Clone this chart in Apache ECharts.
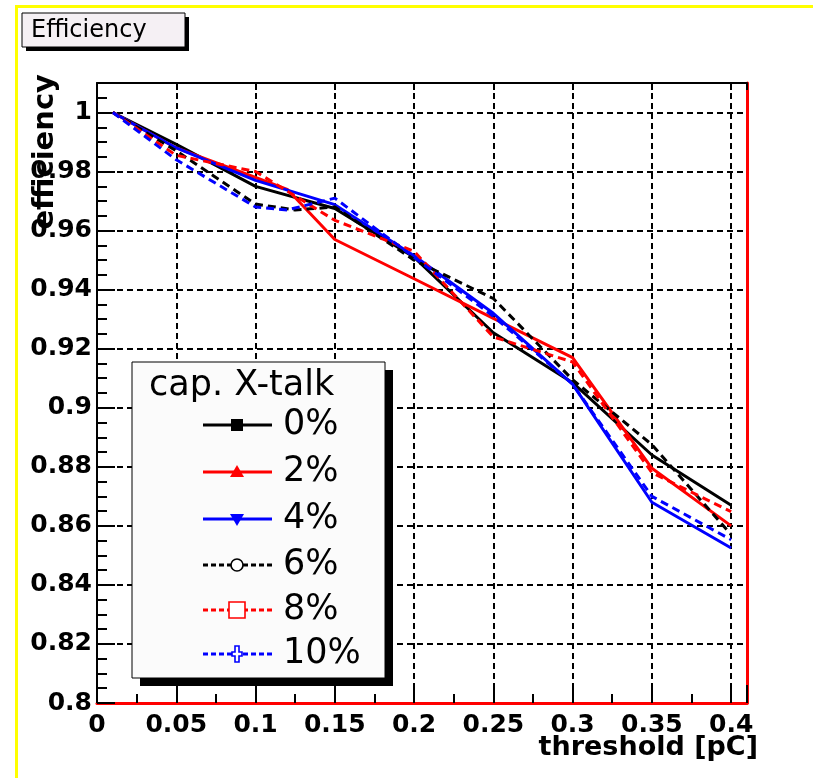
<!DOCTYPE html>
<html><head><meta charset="utf-8">
<script src="https://cdn.jsdelivr.net/npm/echarts@6/dist/echarts.min.js"></script>
<style>html,body{margin:0;padding:0;background:#fff}#c{width:813px;height:778px}</style>
</head><body><div id="c"></div>
<script>
// ---- data ----
const seriesNames = ['0%', '2%', '4%', '6%', '8%', '10%'];
const legendTitle = 'cap. X-talk';
const chartTitle = 'Efficiency';
const xTitle = 'threshold [pC]';
const yTitle = 'efficiency';

const x0 = [0.01, 0.05, 0.1, 0.15, 0.2, 0.25, 0.3, 0.35, 0.4];
const y0 = [1.0, 0.9892, 0.975, 0.9675, 0.951, 0.9254, 0.9085, 0.884, 0.867];
const x2 = [0.01, 0.05, 0.1, 0.12, 0.15, 0.2, 0.25, 0.3, 0.35, 0.4];
const y2 = [1.0, 0.988, 0.978, 0.974, 0.957, 0.9437, 0.9303, 0.917, 0.8795, 0.860];
const x4 = [0.01, 0.05, 0.1, 0.15, 0.2, 0.25, 0.3, 0.35, 0.4];
const y4 = [1.0, 0.988, 0.977, 0.9688, 0.9515, 0.932, 0.908, 0.868, 0.8525];
const x6 = [0.01, 0.05, 0.1, 0.125, 0.15, 0.2, 0.25, 0.3, 0.35, 0.4];
const y6 = [1.0, 0.987, 0.969, 0.967, 0.968, 0.950, 0.937, 0.9095, 0.8875, 0.857];
const x8 = [0.01, 0.05, 0.1, 0.15, 0.2, 0.25, 0.3, 0.35, 0.4];
const y8 = [1.0, 0.9855, 0.980, 0.9635, 0.953, 0.924, 0.9155, 0.878, 0.8648];
const x10 = [0.01, 0.05, 0.1, 0.12, 0.15, 0.2, 0.25, 0.3, 0.35, 0.4];
const y10 = [1.0, 0.984, 0.968, 0.967, 0.971, 0.951, 0.931, 0.908, 0.870, 0.8553];

const xs = [x0, x2, x4, x6, x8, x10];
const ys = [y0, y2, y4, y6, y8, y10];

// ---- styles ----
const colors = ['#000000', '#ff0000', '#0000ff', '#000000', '#ff0000', '#0000ff'];
const dashed = [false, false, false, true, true, true];
const markers = ['square', 'triangle', 'downTriangle', 'openCircle', 'openSquare', 'openCross'];
const FONT = 'DejaVu Sans';

const series = seriesNames.map((n, i) => ({
  name: n,
  type: 'line',
  data: xs[i].map((x, k) => [x, ys[i][k]]),
  showSymbol: false,
  symbol: 'none',
  silent: true,
  lineStyle: { color: colors[i], width: 3, type: dashed[i] ? [8, 5] : 'solid' },
  z: 3
}));

// legend built as graphic
const LX = 132, LY = 362, LW = 253, LH = 316;
const rowY = [425, 472, 519, 565, 610, 654];
const legendEls = [
  { type: 'rect', shape: { x: LX + 8, y: LY + 8, width: LW, height: LH }, style: { fill: '#000' }, z: 100 },
  { type: 'rect', shape: { x: LX, y: LY, width: LW, height: LH }, style: { fill: '#fbfbfb', stroke: '#000', lineWidth: 1 }, z: 101 },
  { type: 'text', x: 149, y: 386, style: { text: legendTitle, font: '35px "' + FONT + '"', fill: '#000', textVerticalAlign: 'middle', textAlign: 'left' }, z: 102 }
];
function markerEl(kind, cx, cy, col) {
  switch (kind) {
    case 'square': return { type: 'rect', shape: { x: cx - 6, y: cy - 6, width: 12, height: 12 }, style: { fill: col } };
    case 'triangle': return { type: 'polygon', shape: { points: [[cx, cy - 7], [cx + 7, cy + 5], [cx - 7, cy + 5]] }, style: { fill: col } };
    case 'downTriangle': return { type: 'polygon', shape: { points: [[cx - 7, cy - 5], [cx + 7, cy - 5], [cx, cy + 7]] }, style: { fill: col } };
    case 'openCircle': return { type: 'circle', shape: { cx: cx, cy: cy, r: 6 }, style: { fill: '#fff', stroke: col, lineWidth: 1.6 } };
    case 'openSquare': return { type: 'rect', shape: { x: cx - 8, y: cy - 8, width: 16, height: 16 }, style: { fill: '#fff', stroke: col, lineWidth: 1.6 } };
    default: return { type: 'polygon', shape: { points: [[cx - 2, cy - 8], [cx + 2, cy - 8], [cx + 2, cy - 2], [cx + 5, cy - 2], [cx + 5, cy + 2], [cx + 2, cy + 2], [cx + 2, cy + 8], [cx - 2, cy + 8], [cx - 2, cy + 2], [cx - 5, cy + 2], [cx - 5, cy - 2], [cx - 2, cy - 2]] }, style: { fill: '#fff', stroke: col, lineWidth: 1.6 } };
  }
}
seriesNames.forEach((n, i) => {
  const y = rowY[i];
  legendEls.push({ type: 'line', shape: { x1: 203, y1: y, x2: 272, y2: y }, style: { stroke: colors[i], lineWidth: 3, lineDash: dashed[i] ? [5, 3] : null }, z: 102 });
  const m = markerEl(markers[i], 237, y, colors[i]); m.z = 103; legendEls.push(m);
  legendEls.push({ type: 'text', x: 283, y: y, style: { text: n, font: '35px "' + FONT + '"', fill: '#000', textVerticalAlign: 'middle', textAlign: 'left' }, z: 102 });
});

const frameEls = [
  { type: 'rect', shape: { x: 15, y: 5, width: 798, height: 3 }, style: { fill: '#ffff00' }, z: 0 },
  { type: 'rect', shape: { x: 15, y: 5, width: 3, height: 773 }, style: { fill: '#ffff00' }, z: 0 },
  { type: 'rect', shape: { x: 26, y: 17, width: 163, height: 34 }, style: { fill: '#000' }, z: 100 },
  { type: 'rect', shape: { x: 22, y: 13, width: 163, height: 34 }, style: { fill: '#f5f0f4', stroke: '#000', lineWidth: 1 }, z: 101 },
  { type: 'text', x: 31, y: 31, style: { text: chartTitle, font: '24px "' + FONT + '"', fill: '#000', textVerticalAlign: 'middle' }, z: 102 },
  { type: 'text', x: 758, y: 748, style: { text: xTitle, font: 'bold 27px "' + FONT + '"', fill: '#000', textAlign: 'right', textVerticalAlign: 'middle' }, z: 102 },
  { type: 'text', x: 45, y: 74, rotation: Math.PI / 2, style: { text: yTitle, font: 'bold 29px "' + FONT + '"', fill: '#000', textAlign: 'right', textVerticalAlign: 'middle' }, z: 102 }
];

const labelStyle = { fontFamily: FONT, fontWeight: 'bold', fontSize: 25, color: '#000' };
const gridLine = { show: true, lineStyle: { color: '#000', width: 2, type: [6, 4] } };

const option = {
  backgroundColor: '#ffffff',
  animation: false,
  grid: { left: 97, top: 83, right: 66, bottom: 75, containLabel: false, outerBoundsMode: 'none' },
  xAxis: [
    {
      type: 'value', min: 0, max: 0.41, interval: 0.05, position: 'bottom',
      axisLine: { show: true, onZero: false, lineStyle: { color: '#ff0000', width: 3 } },
      axisTick: { show: true, inside: true, length: 18, lineStyle: { color: '#000', width: 2 } },
      minorTick: { show: true, splitNumber: 2, length: 9, lineStyle: { color: '#000', width: 2 } },
      axisLabel: Object.assign({ margin: 10, showMaxLabel: false, hideOverlap: false }, labelStyle),
      splitLine: gridLine
    },
    {
      type: 'value', min: 0, max: 0.41, interval: 0.05, position: 'top',
      axisLine: { show: true, onZero: false, lineStyle: { color: '#000', width: 2 } },
      axisTick: { show: true, inside: true, length: 7, lineStyle: { color: '#000', width: 2 } },
      axisLabel: { show: false }, splitLine: { show: false }
    }
  ],
  yAxis: [
    {
      type: 'value', min: 0.8, max: 1.01, interval: 0.02, position: 'left',
      axisLine: { show: true, onZero: false, lineStyle: { color: '#000', width: 2 } },
      axisTick: { show: true, inside: true, length: 18, lineStyle: { color: '#000', width: 2 } },
      minorTick: { show: true, splitNumber: 4, length: 10, lineStyle: { color: '#000', width: 2 } },
      axisLabel: Object.assign({ margin: 5, showMaxLabel: false, hideOverlap: false }, labelStyle),
      splitLine: gridLine
    },
    {
      type: 'value', min: 0.8, max: 1.01, interval: 0.02, position: 'right',
      axisLine: { show: true, onZero: false, lineStyle: { color: '#ff0000', width: 3 } },
      axisTick: { show: false }, axisLabel: { show: false }, splitLine: { show: false }
    }
  ],
  series: series,
  graphic: frameEls.concat(legendEls)
};

const chart = echarts.init(document.getElementById('c'), null, { renderer: 'canvas' });
chart.setOption(option);
</script>
</body></html>
